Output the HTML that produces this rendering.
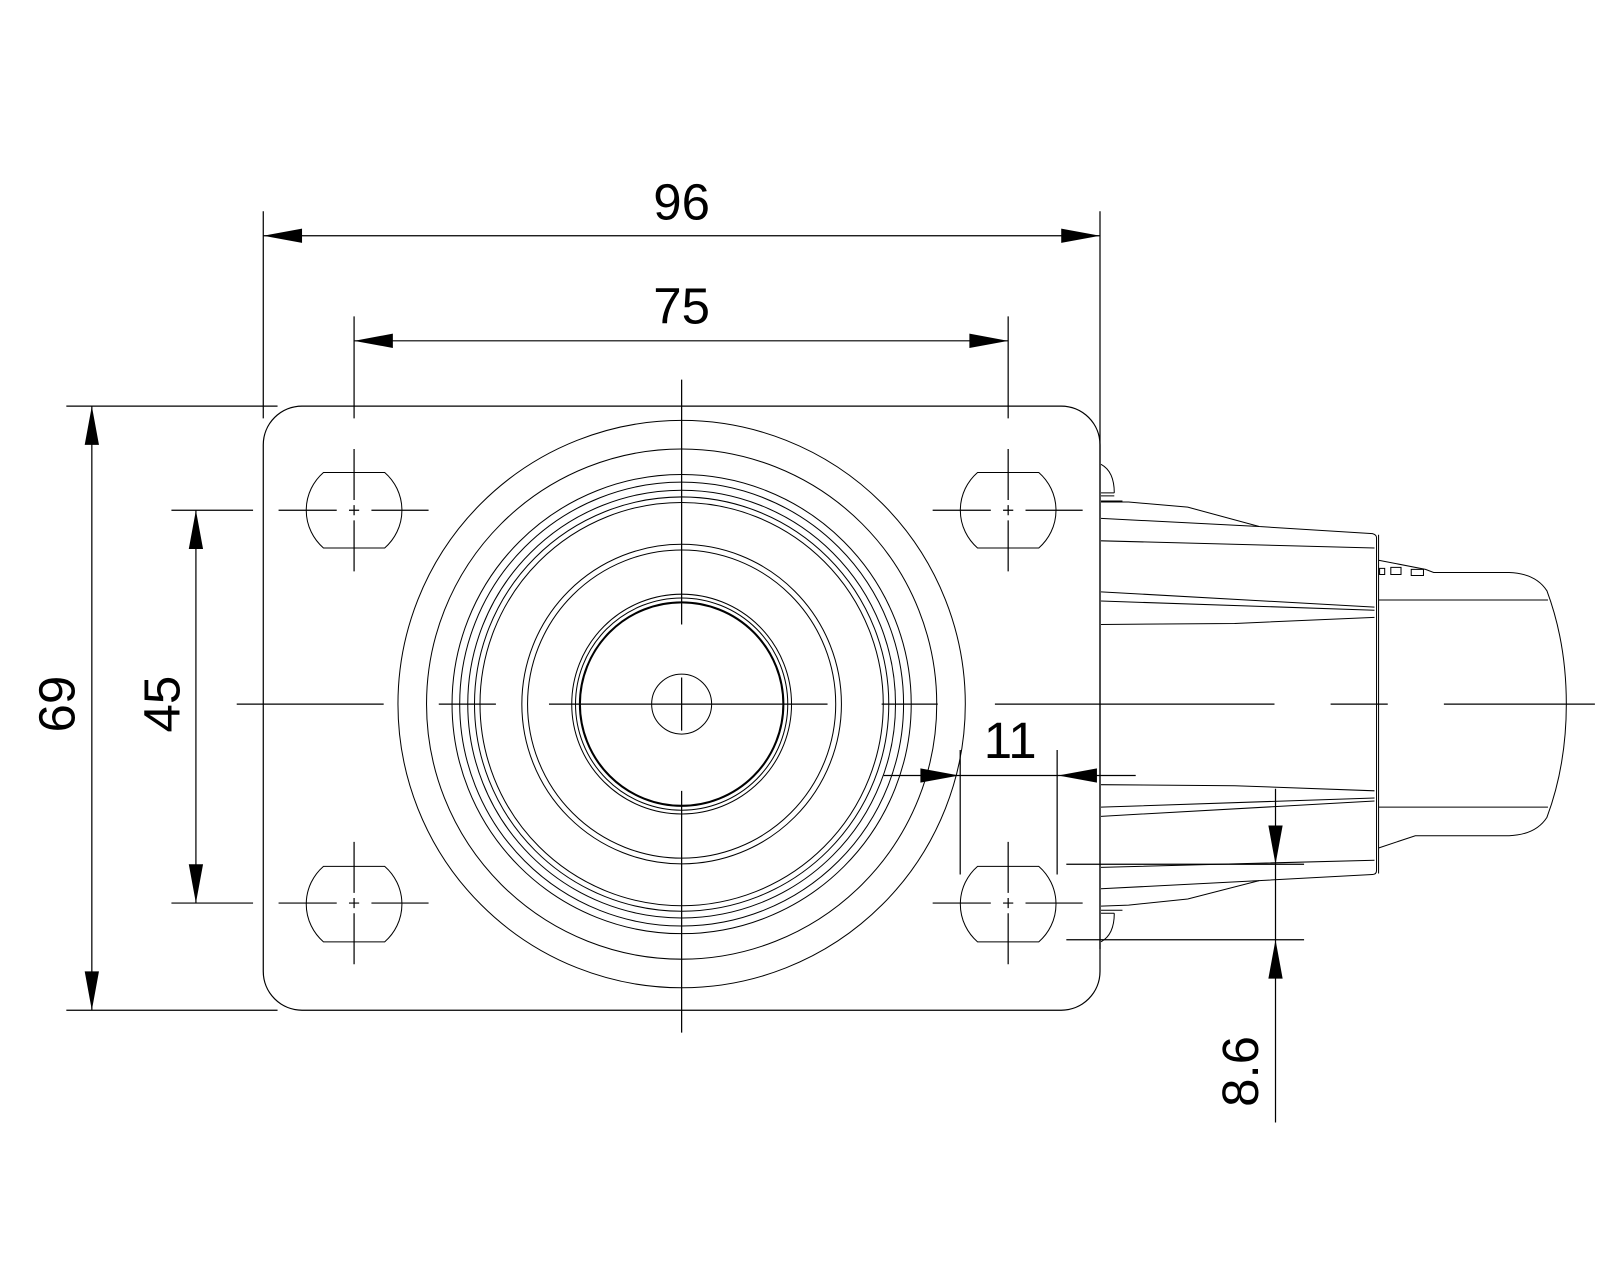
<!DOCTYPE html>
<html><head><meta charset="utf-8"><style>html,body{margin:0;padding:0;background:#fff}svg{display:block}</style></head>
<body>
<svg width="1600" height="1280" viewBox="0 0 1568 1254.4" xmlns="http://www.w3.org/2000/svg">
<rect x="0" y="0" width="1568" height="1254.4" fill="#fff"/>
<g fill="none" stroke="#000" stroke-width="1">
<!-- plate -->
<rect x="258" y="398" width="820" height="592" rx="38" ry="38" stroke-width="1.2"/>
<!-- circles -->
<circle cx="668" cy="690" r="278"/>
<circle cx="668" cy="690" r="250"/>
<circle cx="668" cy="690" r="225"/>
<circle cx="668" cy="690" r="217.5"/>
<circle cx="668" cy="690" r="209.6"/>
<circle cx="668" cy="690" r="203"/>
<circle cx="668" cy="690" r="197.6"/>
<circle cx="668" cy="690" r="156.6"/>
<circle cx="668" cy="690" r="151"/>
<circle cx="668" cy="690" r="107.7"/>
<circle cx="668" cy="690" r="104"/>
<circle cx="668" cy="690" r="99.7" stroke-width="2"/>
<circle cx="668" cy="690" r="29.4"/>
<!-- holes -->
<path d="M317,463 L377,463 A49,49 0 0 1 377,537 L317,537 A49,49 0 0 1 317,463 Z"/>
<path d="M958,463 L1018,463 A49,49 0 0 1 1018,537 L958,537 A49,49 0 0 1 958,463 Z"/>
<path d="M317,849 L377,849 A49,49 0 0 1 377,923 L317,923 A49,49 0 0 1 317,849 Z"/>
<path d="M958,849 L1018,849 A49,49 0 0 1 1018,923 L958,923 A49,49 0 0 1 958,849 Z"/>
</g>
<g fill="none" stroke="#000" stroke-width="1.2">
<!-- hole center lines -->
<path d="M273,500H330 M342,500H352 M364,500H420 M347,440V490 M347,495V505 M347,510V560"/>
<path d="M914,500H971 M983,500H993 M1005,500H1061 M988,440V490 M988,495V505 M988,510V560"/>
<path d="M273,885H330 M342,885H352 M364,885H420 M347,825V875 M347,880V890 M347,895V945"/>
<path d="M914,885H971 M983,885H993 M1005,885H1061 M988,825V875 M988,880V890 M988,895V945"/>
<!-- main center lines -->
<path d="M232,690H376 M430,690H486 M538,690H811 M864,690H919 M975,690H1249 M1304,690H1360 M1415,690H1563"/>
<path d="M668,372V612 M668,664V716 M668,775V1012"/>
<!-- extension lines -->
<path d="M258,207V410 M1078,207V930 M347,310V410 M988,310V410"/>
<path d="M65,398H272 M65,990H272 M168,500H248 M168,885H248"/>
<path d="M941,735V857 M1036,735V857 M1045,847H1278 M1045,921H1278"/>
<!-- dim lines -->
<path d="M258,231H1078 M347,334H988 M90,398V990 M192,500V885 M866,760H1113 M1250,773V1100"/>
</g>
<g fill="#000" stroke="none">
<path d="M258,231 L296,224 L296,238Z M1078,231 L1040,224 L1040,238Z"/>
<path d="M347,334 L385,327 L385,341Z M988,334 L950,327 L950,341Z"/>
<path d="M90,398 L83,436 L97,436Z M90,990 L83,952 L97,952Z"/>
<path d="M192,500 L185,538 L199,538Z M192,885 L185,847 L199,847Z"/>
<path d="M940,760 L902,753 L902,767Z M1037,760 L1075,753 L1075,767Z"/>
<path d="M1250,847 L1243,809 L1257,809Z M1250,921 L1243,959 L1257,959Z"/>
</g>
<!-- housing -->
<g fill="none" stroke="#000" stroke-width="1">
<path d="M1079,455 Q1092,462 1092,483 M1079,483H1092 M1079,486H1092 M1079,491H1100"/>
<path d="M1079,492 L1106,492 L1164,497 L1234,516 L1345,523 Q1349,524 1349,527 L1349,853 Q1349,857 1345,857 L1234,863 L1164,881 L1106,887 L1079,888"/>
<path d="M1351,524 V856"/>
<path d="M1079,508 L1234,516 M1079,530 L1347,537"/>
<path d="M1079,580 L1347,595 M1079,589 L1347,598 M1079,612 L1210,611 L1347,605"/>
<path d="M1079,769 L1210,770 L1347,775 M1079,791 L1347,782 M1079,800 L1347,785"/>
<path d="M1079,850 L1347,843 M1079,871 L1234,863"/>
<path d="M1079,923 Q1092,916 1092,895 M1079,895H1092 M1079,892H1100"/>
<!-- wheel -->
<path d="M1351,549 L1397,558 L1405,561 L1479,561 Q1505,562 1516,579 Q1535,630 1535,690 Q1535,750 1516,801 Q1505,818 1479,819 L1387,819 L1351,831"/>
<path d="M1351,588H1517 M1351,791H1517"/>
<path d="M1352,557h5v6h-5z M1363,556h10v7h-10z M1383,558h12v6h-12z"/>
</g>
<g font-family="'Liberation Sans', sans-serif" font-size="50" fill="#000" text-anchor="middle">
<text x="668" y="215">96</text>
<text x="668" y="317">75</text>
<text x="990" y="743">11</text>
<text transform="translate(73,690) rotate(-90)">69</text>
<text transform="translate(176,690) rotate(-90)">45</text>
<text transform="translate(1233,1050) rotate(-90)">8.6</text>
</g>
</svg>
</body></html>
